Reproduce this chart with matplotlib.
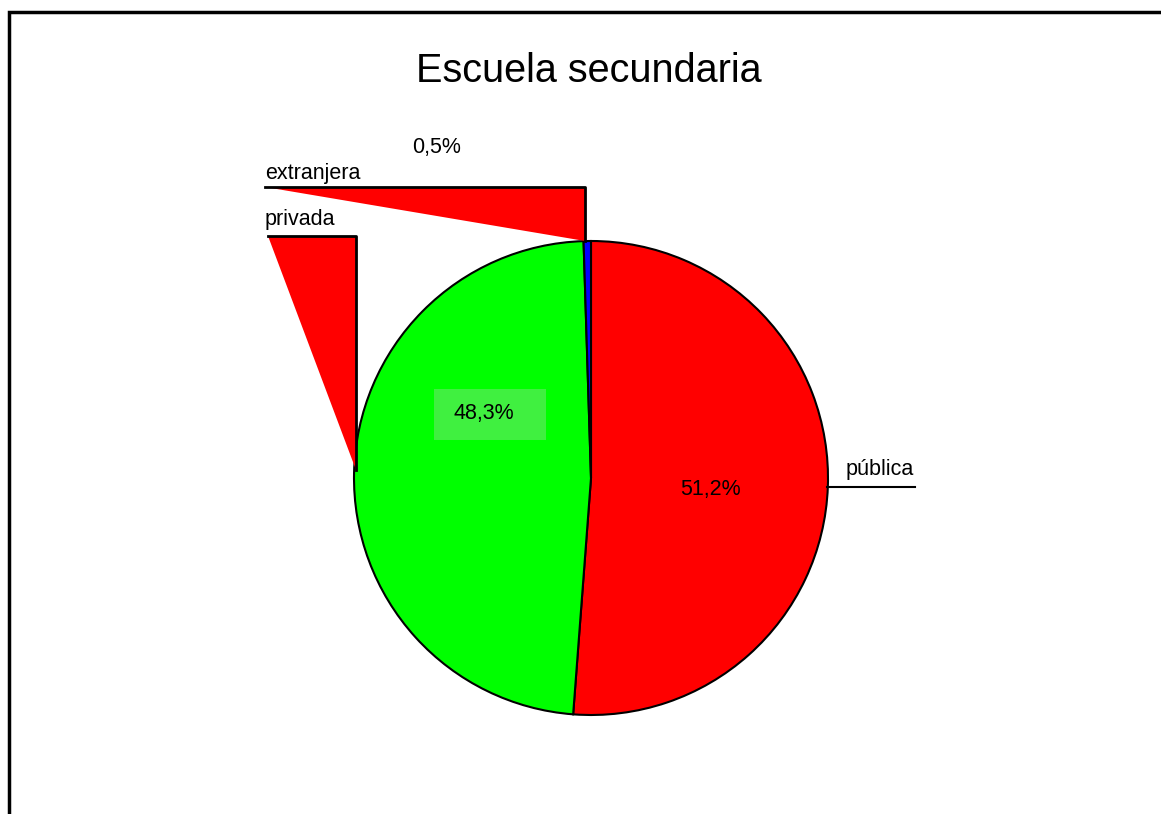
import matplotlib.pyplot as plt
from matplotlib.patches import Polygon, Rectangle

plt.rcParams['font.family'] = ['Liberation Sans', 'DejaVu Sans']

title = 'Escuela secundaria'
labels = ['pública', 'privada', 'extranjera']
values = [51.2, 48.3, 0.5]
colors = ['#ff0000', '#00ff00', '#0000ff']

W, H = 1161, 814
fig = plt.figure(figsize=(W / 100, H / 100), dpi=100)
ax = fig.add_axes([0, 0, 1, 1])
ax.set_xlim(0, W)
ax.set_ylim(0, H)
ax.set_aspect('equal')
ax.axis('off')


def Y(y):
    # pixel row from the top -> data y
    return H - y


# outer frame (bottom and right run off the picture)
ax.add_patch(Rectangle((9, Y(900)), 1200, 888, fill=False, lw=2.5, ec='black'))

cx, cy, r = 591, 478, 237
wedges, _ = ax.pie(values, colors=colors, startangle=90, counterclock=False,
                   center=(cx, Y(cy)), radius=r, frame=True,
                   wedgeprops=dict(edgecolor='black', linewidth=1.5))
ax.set_xlim(0, W)
ax.set_ylim(0, H)
ax.axis('off')

ax.text(589, Y(71), title, ha='center', va='center', fontsize=28.5)

# leader shapes as drawn in the original
tri_ext = [(265, 187), (585, 187), (585, 241)]
tri_priv = [(268, 236), (356, 236), (356, 470)]
for tri in (tri_ext, tri_priv):
    ax.add_patch(Polygon([(x, Y(y)) for x, y in tri], closed=True,
                         fc='#ff0000', ec='none'))
    xs = [tri[0][0], tri[1][0], tri[2][0]]
    ys = [Y(tri[0][1]), Y(tri[1][1]), Y(tri[2][1])]
    ax.plot(xs, ys, color='black', lw=2)
ax.plot([827, 915], [Y(487), Y(487)], color='black', lw=1.5)

fs = 15.5
ax.text(265, Y(173), labels[2], ha='left', va='center', fontsize=fs)
ax.text(265, Y(220), labels[1], ha='left', va='center', fontsize=fs)
ax.text(880, Y(470), labels[0], ha='center', va='center', fontsize=fs)

pct = [f'{v:.1f}%'.replace('.', ',') for v in values]
ax.text(710, Y(490), pct[0], ha='center', va='center', fontsize=fs)
ax.add_patch(Rectangle((434, Y(440)), 112, 51, fc='#40f040', ec='none'))
ax.text(484, Y(413), pct[1], ha='center', va='center', fontsize=fs)
ax.text(437, Y(147), pct[2], ha='center', va='center', fontsize=fs)

fig.savefig('out.png', dpi=100)
